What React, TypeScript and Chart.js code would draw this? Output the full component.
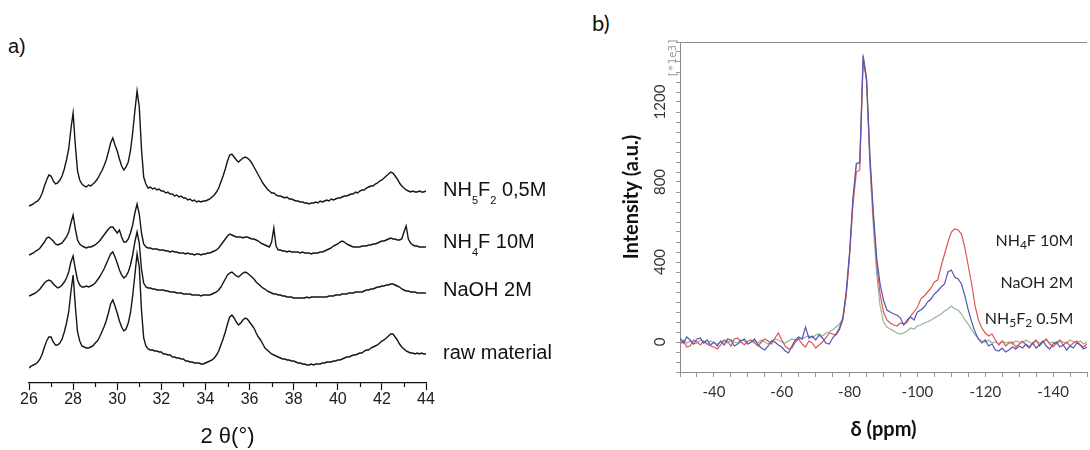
import React, { useEffect, useRef } from "react";
import { Chart, registerables } from "chart.js";

Chart.register(...registerables);

// ---------------- Panel a) XRD ----------------
const TWO_THETA = [
  26.0, 26.1, 26.2, 26.3, 26.4, 26.5, 26.6, 26.7, 26.8, 26.9,
  27.0, 27.1, 27.2, 27.3, 27.4, 27.5, 27.6, 27.7, 27.8, 27.9,
  28.0, 28.1, 28.2, 28.3, 28.4, 28.5, 28.6, 28.7, 28.8, 28.9,
  29.0, 29.1, 29.2, 29.3, 29.4, 29.5, 29.6, 29.7, 29.8, 29.9,
  30.0, 30.1, 30.2, 30.3, 30.4, 30.5, 30.6, 30.7, 30.8, 30.9,
  31.0, 31.1, 31.2, 31.3, 31.4, 31.5, 31.6, 31.7, 31.8, 31.9,
  32.0, 32.1, 32.2, 32.3, 32.4, 32.5, 32.6, 32.7, 32.8, 32.9,
  33.0, 33.1, 33.2, 33.3, 33.4, 33.5, 33.6, 33.7, 33.8, 33.9,
  34.0, 34.1, 34.2, 34.3, 34.4, 34.5, 34.6, 34.7, 34.8, 34.9,
  35.0, 35.1, 35.2, 35.3, 35.4, 35.5, 35.6, 35.7, 35.8, 35.9,
  36.0, 36.1, 36.2, 36.3, 36.4, 36.5, 36.6, 36.7, 36.8, 36.9,
  37.0, 37.1, 37.2, 37.3, 37.4, 37.5, 37.6, 37.7, 37.8, 37.9,
  38.0, 38.1, 38.2, 38.3, 38.4, 38.5, 38.6, 38.7, 38.8, 38.9,
  39.0, 39.1, 39.2, 39.3, 39.4, 39.5, 39.6, 39.7, 39.8, 39.9,
  40.0, 40.1, 40.2, 40.3, 40.4, 40.5, 40.6, 40.7, 40.8, 40.9,
  41.0, 41.1, 41.2, 41.3, 41.4, 41.5, 41.6, 41.7, 41.8, 41.9,
  42.0, 42.1, 42.2, 42.3, 42.4, 42.5, 42.6, 42.7, 42.8, 42.9,
  43.0, 43.1, 43.2, 43.3, 43.4, 43.5, 43.6, 43.7, 43.8, 43.9,
  44.0,
];

const XRD_RAW = [
  15, 17, 18, 19, 21, 24, 29, 36, 42, 46,
  46, 41, 38, 38, 40, 44, 51, 60, 71, 91,
  108, 77, 51, 42, 37, 36, 35, 35, 36, 37,
  40, 42, 46, 51, 56, 62, 70, 79, 83, 77,
  70, 62, 56, 52, 54, 60, 70, 87, 108, 129,
  116, 73, 45, 37, 34, 33, 33, 32, 32, 31,
  31, 29, 29, 28, 28, 26, 26, 25, 25, 24,
  24, 22, 22, 21, 21, 20, 20, 20, 19, 19,
  20, 21, 22, 23, 25, 28, 32, 38, 44, 51,
  59, 66, 68, 65, 61, 58, 60, 63, 65, 64,
  61, 58, 55, 50, 46, 43, 39, 35, 33, 31,
  29, 28, 27, 26, 25, 24, 24, 23, 23, 22,
  22, 21, 20, 20, 19, 19, 18, 18, 19, 18,
  19, 19, 19, 20, 20, 21, 21, 21, 22, 22,
  23, 23, 24, 25, 26, 26, 27, 28, 28, 29,
  30, 30, 32, 33, 33, 35, 36, 37, 38, 40,
  42, 43, 45, 47, 49, 49, 46, 43, 39, 36,
  34, 32, 31, 30, 30, 29, 30, 29, 30, 29,
  29,
];

const XRD_NAOH = [
  15, 16, 17, 18, 20, 22, 25, 28, 30, 31,
  30, 27, 25, 23, 24, 26, 29, 33, 39, 49,
  55, 42, 31, 26, 24, 24, 25, 24, 25, 26,
  28, 31, 34, 38, 42, 47, 52, 57, 59, 54,
  48, 41, 36, 33, 35, 39, 46, 56, 69, 79,
  68, 42, 28, 24, 23, 23, 22, 22, 21, 21,
  21, 21, 20, 20, 19, 19, 19, 18, 18, 18,
  17, 17, 17, 17, 16, 16, 16, 16, 15, 16,
  16, 16, 16, 17, 18, 19, 21, 24, 28, 32,
  36, 38, 39, 37, 35, 34, 36, 38, 39, 38,
  36, 34, 32, 29, 27, 25, 23, 22, 20, 19,
  18, 17, 17, 16, 16, 15, 15, 14, 14, 14,
  13, 13, 13, 13, 13, 13, 14, 13, 14, 14,
  14, 14, 14, 14, 14, 14, 15, 15, 15, 16,
  16, 16, 17, 17, 17, 18, 18, 18, 19, 19,
  19, 19, 20, 21, 21, 22, 22, 23, 24, 24,
  25, 25, 26, 26, 27, 27, 26, 25, 24, 22,
  21, 20, 20, 19, 19, 19, 18, 18, 18, 18,
  18,
];

const XRD_NH4F = [
  15, 16, 17, 19, 20, 22, 25, 28, 32, 33,
  31, 29, 26, 25, 26, 27, 30, 33, 38, 47,
  55, 41, 30, 26, 24, 23, 22, 23, 23, 24,
  25, 27, 29, 32, 35, 38, 41, 43, 43, 40,
  37, 40, 33, 28, 28, 31, 37, 45, 57, 66,
  56, 37, 26, 23, 22, 22, 21, 21, 21, 20,
  20, 20, 19, 19, 18, 19, 18, 18, 17, 17,
  17, 16, 17, 16, 16, 15, 16, 16, 15, 16,
  16, 17, 17, 18, 19, 20, 22, 25, 28, 31,
  34, 36, 35, 34, 33, 33, 33, 32, 33, 33,
  32, 31, 31, 30, 29, 27, 26, 25, 24, 23,
  28, 42, 24, 20, 20, 19, 19, 18, 19, 18,
  18, 18, 18, 17, 18, 17, 17, 17, 16, 17,
  17, 17, 18, 18, 19, 20, 21, 22, 24, 25,
  26, 28, 29, 28, 26, 25, 24, 23, 23, 23,
  23, 24, 24, 24, 25, 25, 26, 26, 27, 28,
  29, 29, 30, 31, 32, 31, 31, 30, 30, 31,
  38, 44, 31, 27, 25, 24, 24, 23, 23, 23,
  23,
];

const XRD_NH5F2 = [
  15, 16, 17, 19, 20, 23, 28, 35, 41, 46,
  45, 40, 37, 38, 41, 45, 52, 61, 72, 92,
  108, 76, 50, 41, 37, 35, 34, 36, 35, 37,
  39, 42, 46, 50, 55, 61, 69, 78, 83, 76,
  70, 62, 55, 51, 54, 59, 70, 88, 110, 130,
  114, 72, 44, 37, 33, 34, 32, 33, 31, 32,
  30, 30, 28, 29, 27, 27, 25, 26, 24, 25,
  23, 23, 21, 22, 20, 21, 19, 20, 19, 20,
  20, 21, 22, 24, 26, 29, 33, 39, 45, 52,
  60, 66, 67, 64, 61, 59, 61, 63, 64, 63,
  61, 58, 54, 50, 46, 42, 38, 35, 32, 30,
  28, 28, 26, 25, 25, 24, 23, 24, 22, 22,
  21, 20, 20, 19, 19, 18, 18, 17, 18, 18,
  19, 18, 20, 19, 20, 21, 20, 22, 21, 22,
  23, 23, 24, 25, 25, 26, 27, 27, 29, 28,
  30, 31, 31, 33, 34, 35, 35, 37, 38, 40,
  41, 43, 45, 47, 49, 48, 45, 42, 38, 35,
  33, 31, 30, 29, 30, 29, 29, 30, 29, 29,
  30,
];

const XRD_NAMES = ["raw material", "NaOH 2M", "NH4F 10M", "NH5F2 0,5M"];
const XRD_OFFSETS = [0, 72, 113, 162];
const XRD_MAJOR_TICKS = [26, 28, 30, 32, 34, 36, 38, 40, 42, 44];
const XRD_MINOR_TICKS = [27, 29, 31, 33, 35, 37, 39, 41, 43];
const XRD_X_TITLE = "2 θ(°)";

// ---------------- Panel b) 29Si NMR ----------------
const PPM = [
  -30, -31, -32, -33, -34, -35, -36, -37, -38, -39,
  -40, -41, -42, -43, -44, -45, -46, -47, -48, -49,
  -50, -51, -52, -53, -54, -55, -56, -57, -58, -59,
  -60, -61, -62, -63, -64, -65, -66, -67, -68, -69,
  -70, -71, -72, -73, -74, -75, -76, -77, -78, -79,
  -80, -81, -82, -83, -84, -85, -86, -87, -88, -89,
  -90, -91, -92, -93, -94, -95, -96, -97, -98, -99,
  -100, -101, -102, -103, -104, -105, -106, -107, -108, -109,
  -110, -111, -112, -113, -114, -115, -116, -117, -118, -119,
  -120, -121, -122, -123, -124, -125, -126, -127, -128, -129,
  -130, -131, -132, -133, -134, -135, -136, -137, -138, -139,
  -140, -141, -142, -143, -144, -145, -146, -147, -148, -149,
  -150,
];

const NMR_NH4F = [
  -10, 5, -25, -20, 10, 0, -15, 5, -10, -20,
  -25, -35, -15, 10, 5, -20, 15, 20, 0, -15,
  5, 10, -5, -20, 0, 15, 5, -10, 20, 45,
  10, -20, -35, -30, 0, 15, -10, -25, 5, -5,
  -30, -15, 0, 20, 45, 40, 35, 60, 110, 230,
  430, 690, 850, 860, 1410, 1310, 910, 620, 390, 240,
  150, 110, 95, 85, 80, 95, 90, 100, 130, 150,
  175, 215, 230, 250, 270, 300, 310, 380, 440, 500,
  550, 565, 560, 540, 470, 380, 290, 180, 110, 70,
  45, 30, 40, 10, -15, 5, -20, -5, 0, -25,
  -10, 5, -15, -30, -5, 10, -20, 0, 15, -10,
  -25, -5, 10, -15, 0, -20, -5, 5, -15, -25,
  -10,
];

const NMR_NAOH = [
  20, -5, 25, 10, -10, 15, 20, -5, 10, -15,
  0, -20, 5, -15, 15, 10, -20, -10, 5, 15,
  -10, 0, 15, -15, -30, -40, -20, 5, 0, -15,
  -25, -45, -55, -20, 10, 25, 15, 75, 20, 30,
  10, 35, 20, -5, -10, 20, 40, 70, 120, 250,
  450, 720, 890, 900, 1430, 1320, 930, 650, 420, 290,
  210, 160, 150, 140, 135, 120, 85, 110, 125, 110,
  150, 160, 175, 200, 215, 240, 255, 275, 290, 350,
  360, 325, 315, 290, 230, 160, 100, 50, 15, -5,
  10, -20, -10, -40, -45, -30, -50, -40, -25, -35,
  -20, -30, -10, -25, -5, -30, -15, 5, -20, -35,
  -10, 0, -25, -15, -40, -20, -30, -5, -15, -35,
  -25,
];

const NMR_NH5F2 = [
  0, 10, -5, 5, -10, -5, 10, 0, -10, 5,
  -5, -10, 0, 5, -5, 10, 0, -5, 10, 5,
  -10, 0, 5, -5, 10, 0, -10, 5, 15, 10,
  0, -5, 5, 15, 10, 20, 15, 25, 30, 20,
  35, 40, 30, 45, 50, 60, 75, 90, 115, 240,
  440, 710, 895, 890, 1440, 1300, 880, 580, 340, 180,
  100, 75, 65, 55, 45, 40, 45, 55, 70, 65,
  80, 85, 95, 100, 110, 120, 130, 140, 155, 165,
  180, 165, 160, 140, 110, 90, 60, 35, 15, 5,
  0, 10, -5, 0, -10, 5, -5, 0, -10, 5,
  0, -5, 10, 0, -10, 5, -5, 0, 10, -5,
  0, -10, 5, 0, -5, 10, 0, -5, 5, -10,
  0,
];

const NMR_NAMES = ["NH4F 10M", "NaOH 2M", "NH5F2 0.5M"];
const NMR_COLORS = ["#dd5656", "#5656b4", "#94b594"];
const NMR_Y_TICK_LABELS = [0, 400, 800, 1200];
const NMR_X_TICK_LABELS = [-40, -60, -80, -100, -120, -140];
const NMR_X_TITLE = "δ (ppm)";
const NMR_Y_TITLE = "Intensity (a.u.)";
const NMR_Y_UNIT = "[*1e3]";

// label anchors (in axis units)
const XRD_LABEL_LEVELS = [24, 87, 135, 187];
const NMR_LABEL_X = -146;
const NMR_LABEL_LEVELS = [480, 272, 88];

// ---------- helpers ----------
function richParts(s: string): [string, boolean][] {
  const parts: [string, boolean][] = [];
  let prevLetter = false;
  let prevSub = false;
  for (const ch of s) {
    const isDigit = ch >= "0" && ch <= "9";
    const sub = isDigit && (prevLetter || prevSub);
    const last = parts[parts.length - 1];
    if (last && last[1] === sub) last[0] += ch;
    else parts.push([ch, sub]);
    prevLetter = /[A-Za-z]/.test(ch);
    prevSub = sub;
  }
  return parts;
}

function drawRich(
  ctx: CanvasRenderingContext2D,
  text: string,
  x: number,
  baseline: number,
  align: "left" | "right",
  mainFont: string,
  subFont: string,
  subShift: number
) {
  const parts = richParts(text);
  let total = 0;
  const widths = parts.map(([t, sub]) => {
    ctx.font = sub ? subFont : mainFont;
    const w = ctx.measureText(t).width;
    total += w;
    return w;
  });
  let cx = align === "right" ? x - total : x;
  ctx.textAlign = "left";
  ctx.textBaseline = "alphabetic";
  parts.forEach(([t, sub], i) => {
    ctx.font = sub ? subFont : mainFont;
    ctx.fillText(t, cx, baseline + (sub ? subShift : 0));
    cx += widths[i];
  });
}

const XRD_SERIES = [XRD_RAW, XRD_NAOH, XRD_NH4F, XRD_NH5F2];
const NMR_SERIES = [NMR_NH4F, NMR_NAOH, NMR_NH5F2];

const xrdDecor = {
  id: "xrdDecor",
  afterDraw(chart: any) {
    const { ctx, chartArea, scales } = chart;
    const xs = scales.x;
    const ys = scales.y;
    ctx.save();
    ctx.strokeStyle = "#111";
    ctx.lineWidth = 1.2;
    for (const v of XRD_MINOR_TICKS) {
      const px = Math.round(xs.getPixelForValue(v)) + 0.5;
      ctx.beginPath();
      ctx.moveTo(px, chartArea.bottom);
      ctx.lineTo(px, chartArea.bottom + 4);
      ctx.stroke();
    }
    ctx.fillStyle = "#111";
    XRD_NAMES.forEach((name, i) => {
      drawRich(
        ctx,
        name,
        chartArea.right + 17,
        ys.getPixelForValue(XRD_LABEL_LEVELS[i]),
        "left",
        '20px "Liberation Sans", Arial, sans-serif',
        '11px "Liberation Sans", Arial, sans-serif',
        8
      );
    });
    ctx.restore();
  },
};

const nmrDecor = {
  id: "nmrDecor",
  afterDraw(chart: any) {
    const { ctx, chartArea, scales } = chart;
    const xs = scales.x;
    const ys = scales.y;
    ctx.save();
    // top frame line
    ctx.strokeStyle = "#8a8a8a";
    ctx.lineWidth = 1;
    ctx.beginPath();
    ctx.moveTo(chartArea.left, Math.round(chartArea.top) + 0.5);
    ctx.lineTo(chartArea.right, Math.round(chartArea.top) + 0.5);
    ctx.stroke();
    // rotated y tick labels
    ctx.fillStyle = "#333";
    ctx.font = "15px Lato, sans-serif";
    ctx.textAlign = "center";
    ctx.textBaseline = "middle";
    for (const v of NMR_Y_TICK_LABELS) {
      ctx.save();
      ctx.translate(chartArea.left - 20, ys.getPixelForValue(v));
      ctx.rotate(-Math.PI / 2);
      ctx.fillText(String(v), 0, 0);
      ctx.restore();
    }
    // multiplier
    ctx.save();
    ctx.fillStyle = "#9a9a9a";
    ctx.font = '11px "DejaVu Sans Mono", monospace';
    ctx.translate(chartArea.left - 7, chartArea.top + 16);
    ctx.rotate(-Math.PI / 2);
    ctx.fillText(NMR_Y_UNIT, 0, 0);
    ctx.restore();
    // y title
    ctx.save();
    ctx.fillStyle = "#111";
    ctx.font = "bold 20px Lato, sans-serif";
    ctx.translate(72, 197);
    ctx.rotate(-Math.PI / 2);
    ctx.fillText(NMR_Y_TITLE, 0, 0);
    ctx.restore();
    // series labels
    ctx.fillStyle = "#222";
    NMR_NAMES.forEach((name, i) => {
      drawRich(
        ctx,
        name,
        xs.getPixelForValue(NMR_LABEL_X),
        ys.getPixelForValue(NMR_LABEL_LEVELS[i]),
        "right",
        "16px Lato, sans-serif",
        "12px Lato, sans-serif",
        3
      );
    });
    ctx.restore();
  },
};

function XrdChart() {
  const ref = useRef<HTMLCanvasElement>(null);
  useEffect(() => {
    const chart = new Chart(ref.current!, {
      type: "line",
      data: {
        datasets: XRD_SERIES.map((arr, i) => ({
          label: XRD_NAMES[i],
          data: TWO_THETA.map((x, j) => ({ x, y: XRD_OFFSETS[i] + arr[j] })),
          borderColor: "#151515",
          borderWidth: 1.4,
          pointRadius: 0,
          tension: 0,
          fill: false,
        })),
      },
      options: {
        responsive: false,
        animation: false,
        events: [],
        layout: { padding: { left: 29, right: 134, top: 43, bottom: 0 } },
        plugins: { legend: { display: false }, tooltip: { enabled: false } },
        scales: {
          x: {
            type: "linear",
            min: 26,
            max: 44,
            afterFit: (s: any) => {
              s.height = 67;
            },
            afterBuildTicks: (s: any) => {
              s.ticks = XRD_MAJOR_TICKS.map((v) => ({ value: v }));
            },
            ticks: {
              autoSkip: false,
              maxRotation: 0,
              minRotation: 0,
              padding: 0,
              color: "#1a1a1a",
              font: { family: '"Liberation Sans", Arial, sans-serif', size: 16 },
              callback: (v: any) => String(v),
            },
            grid: {
              display: true,
              drawOnChartArea: false,
              drawTicks: true,
              tickLength: 7,
              tickColor: "#111",
              tickWidth: 1.2,
            },
            border: { display: true, color: "#111", width: 1.3 },
            title: {
              display: true,
              text: XRD_X_TITLE,
              color: "#111",
              font: { family: '"Liberation Sans", Arial, sans-serif', size: 22 },
              padding: { top: 0, bottom: 0 },
            },
          },
          y: {
            type: "linear",
            display: false,
            min: 0,
            max: 340,
          },
        },
      },
      plugins: [xrdDecor],
    } as any);
    return () => chart.destroy();
  }, []);
  return (
    <canvas
      ref={ref}
      width={560}
      height={450}
      style={{ position: "absolute", left: 0, top: 0, width: 560, height: 450 }}
    />
  );
}

function NmrChart() {
  const ref = useRef<HTMLCanvasElement>(null);
  useEffect(() => {
    const order = [1, 0, 2];
    const chart = new Chart(ref.current!, {
      type: "line",
      data: {
        datasets: order.map((i) => ({
          label: NMR_NAMES[i],
          data: PPM.map((x, j) => ({ x, y: NMR_SERIES[i][j] })),
          borderColor: NMR_COLORS[i],
          borderWidth: 1.2,
          pointRadius: 0,
          tension: 0,
          fill: false,
        })),
      },
      options: {
        responsive: false,
        animation: false,
        events: [],
        layout: { padding: { left: 0, right: 0, top: 42, bottom: 0 } },
        plugins: { legend: { display: false }, tooltip: { enabled: false } },
        scales: {
          x: {
            type: "linear",
            reverse: true,
            min: -150,
            max: -30,
            afterFit: (s: any) => {
              s.height = 78;
            },
            ticks: {
              stepSize: 5,
              autoSkip: false,
              maxRotation: 0,
              minRotation: 0,
              padding: 6,
              color: "#333",
              font: { family: "Lato, sans-serif", size: 15 },
              callback: (v: any) => (NMR_X_TICK_LABELS.includes(Number(v)) ? String(v) : ""),
            },
            grid: {
              display: true,
              drawOnChartArea: false,
              tickLength: 5,
              tickColor: "#999",
              tickWidth: 1,
            },
            border: { display: true, color: "#8a8a8a", width: 1 },
            title: {
              display: true,
              text: NMR_X_TITLE,
              color: "#111",
              font: { family: "Lato, sans-serif", size: 20, weight: "bold" },
              padding: { top: 0, bottom: 8 },
            },
          },
          y: {
            type: "linear",
            min: -150,
            max: 1500,
            afterFit: (s: any) => {
              s.width = 120;
            },
            ticks: {
              stepSize: 50,
              autoSkip: false,
              font: { size: 8 },
              callback: () => "",
            },
            grid: {
              display: true,
              drawOnChartArea: false,
              tickLength: 4,
              tickColor: "#999",
              tickWidth: 1,
            },
            border: { display: true, color: "#8a8a8a", width: 1 },
          },
        },
      },
      plugins: [nmrDecor],
    } as any);
    return () => chart.destroy();
  }, []);
  return (
    <canvas
      ref={ref}
      width={533}
      height={450}
      style={{ position: "absolute", left: 560, top: 0, width: 533, height: 450 }}
    />
  );
}

export default function App() {
  return (
    <div
      style={{
        position: "absolute",
        left: 0,
        top: 0,
        width: 1090,
        height: 450,
        overflow: "hidden",
        background: "#fff",
      }}
    >
      <div
        style={{
          position: "absolute",
          left: 8,
          top: 33,
          fontFamily: '"Liberation Sans", Arial, sans-serif',
          fontSize: 20,
          lineHeight: "26px",
          color: "#111",
        }}
      >
        a)
      </div>
      <div
        style={{
          position: "absolute",
          left: 592,
          top: 8,
          fontFamily: "Lato, sans-serif",
          fontSize: 22,
          lineHeight: "30px",
          color: "#111",
        }}
      >
        b)
      </div>
      <XrdChart />
      <NmrChart />
    </div>
  );
}
